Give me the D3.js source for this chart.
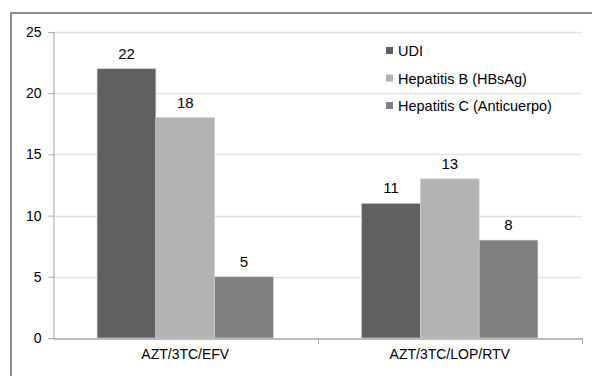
<!DOCTYPE html>
<html>
<head>
<meta charset="utf-8">
<script src="https://cdn.jsdelivr.net/npm/d3@7"></script>
<style>
  html, body { margin: 0; padding: 0; background: #fff; }
  svg { display: block; }
  text { font-family: "Liberation Sans", Arial, sans-serif; fill: #000; }
</style>
</head>
<body>
<svg id="chart" width="592" height="376"></svg>
<script>
// Regimens on the x axis
const categories = ["AZT/3TC/EFV", "AZT/3TC/LOP/RTV"];
// Series shown for each regimen
const seriesNames = ["UDI", "Hepatitis B (HBsAg)", "Hepatitis C (Anticuerpo)"];
const udi = [22, 11];
const hepB = [18, 13];
const hepC = [5, 8];
const seriesValues = [udi, hepB, hepC];
const yTicks = [0, 5, 10, 15, 20, 25];
const colors = ["#606060", "#b3b3b3", "#808080"];

const svg = d3.select("#chart");
const plotLeft = 53, plotTop = 32, plotRight = 582, plotBottom = 338;

// outer frame (partly outside the view)
svg.append("rect")
  .attr("x", 11).attr("y", 13)
  .attr("width", 600).attr("height", 400)
  .attr("fill", "none").attr("stroke", "#8c8c8c").attr("stroke-width", 2);

const y = d3.scaleLinear().domain([0, 25]).range([plotBottom, plotTop]);
const x0 = d3.scaleBand().domain(categories).range([plotLeft, plotRight]).paddingInner(0).paddingOuter(0);
const x1 = d3.scaleBand().domain(seriesNames)
  .range([x0.bandwidth() / 6, x0.bandwidth() * 5 / 6]).padding(0);

// gridlines
svg.append("g").selectAll("line").data(yTicks.filter(d => d > 0)).join("line")
  .attr("x1", plotLeft).attr("x2", plotRight)
  .attr("y1", d => Math.round(y(d)) + 0.5).attr("y2", d => Math.round(y(d)) + 0.5)
  .attr("stroke", "#e3e3e3").attr("stroke-width", 1.5);

// y axis
const yAxis = svg.append("g").attr("transform", `translate(${plotLeft + 0.5},0)`)
  .call(d3.axisLeft(y).tickValues(yTicks).tickSize(5).tickPadding(7));
yAxis.select(".domain").attr("stroke", "#a6a6a6");
yAxis.selectAll(".tick line").attr("stroke", "#a6a6a6");
yAxis.selectAll(".tick text").attr("font-size", "14px")
  .attr("font-family", "Liberation Sans, Arial, sans-serif").attr("fill", "#000");

// bars
const groups = svg.append("g").selectAll("g").data(categories).join("g")
  .attr("transform", d => `translate(${x0(d)},0)`);

groups.selectAll("rect")
  .data((c, i) => seriesNames.map((s, j) => ({ s, j, v: seriesValues[j][i] })))
  .join("rect")
  .attr("x", d => x1(d.s))
  .attr("y", d => y(d.v))
  .attr("width", x1.bandwidth())
  .attr("height", d => plotBottom - y(d.v))
  .attr("fill", d => colors[d.j])
  .attr("stroke", "#d0d0d0").attr("stroke-width", 0.6);

// value labels
groups.selectAll("text.val")
  .data((c, i) => seriesNames.map((s, j) => ({ s, j, v: seriesValues[j][i] })))
  .join("text").attr("class", "val")
  .attr("x", d => x1(d.s) + x1.bandwidth() / 2)
  .attr("y", d => y(d.v) - 10)
  .attr("text-anchor", "middle")
  .attr("font-size", "15px")
  .text(d => d.v);

// x axis
const xAxis = svg.append("g").attr("transform", `translate(0,${plotBottom + 0.5})`)
  .call(d3.axisBottom(x0).tickSize(0).tickPadding(11));
xAxis.select(".domain").attr("stroke", "#a6a6a6").attr("stroke-width", 1.5);
xAxis.selectAll(".tick text").attr("font-size", "14px")
  .attr("font-family", "Liberation Sans, Arial, sans-serif").attr("fill", "#000");
// category separator ticks
svg.append("g").selectAll("line")
  .data(categories.slice(1).map(c => x0(c)).concat([plotRight]))
  .join("line")
  .attr("x1", d => Math.round(d) + 0.5).attr("x2", d => Math.round(d) + 0.5)
  .attr("y1", plotBottom).attr("y2", plotBottom + 6)
  .attr("stroke", "#a6a6a6");

// legend
const legend = svg.append("g").attr("transform", "translate(386,51)");
const items = legend.selectAll("g").data(seriesNames).join("g")
  .attr("transform", (d, i) => `translate(0,${i * 27.5})`);
items.append("rect").attr("x", 0).attr("y", -4).attr("width", 7).attr("height", 7)
  .attr("fill", (d, i) => colors[i]);
items.append("text").attr("x", 12).attr("y", 5).attr("font-size", "14.5px").text(d => d);
</script>
</body>
</html>
